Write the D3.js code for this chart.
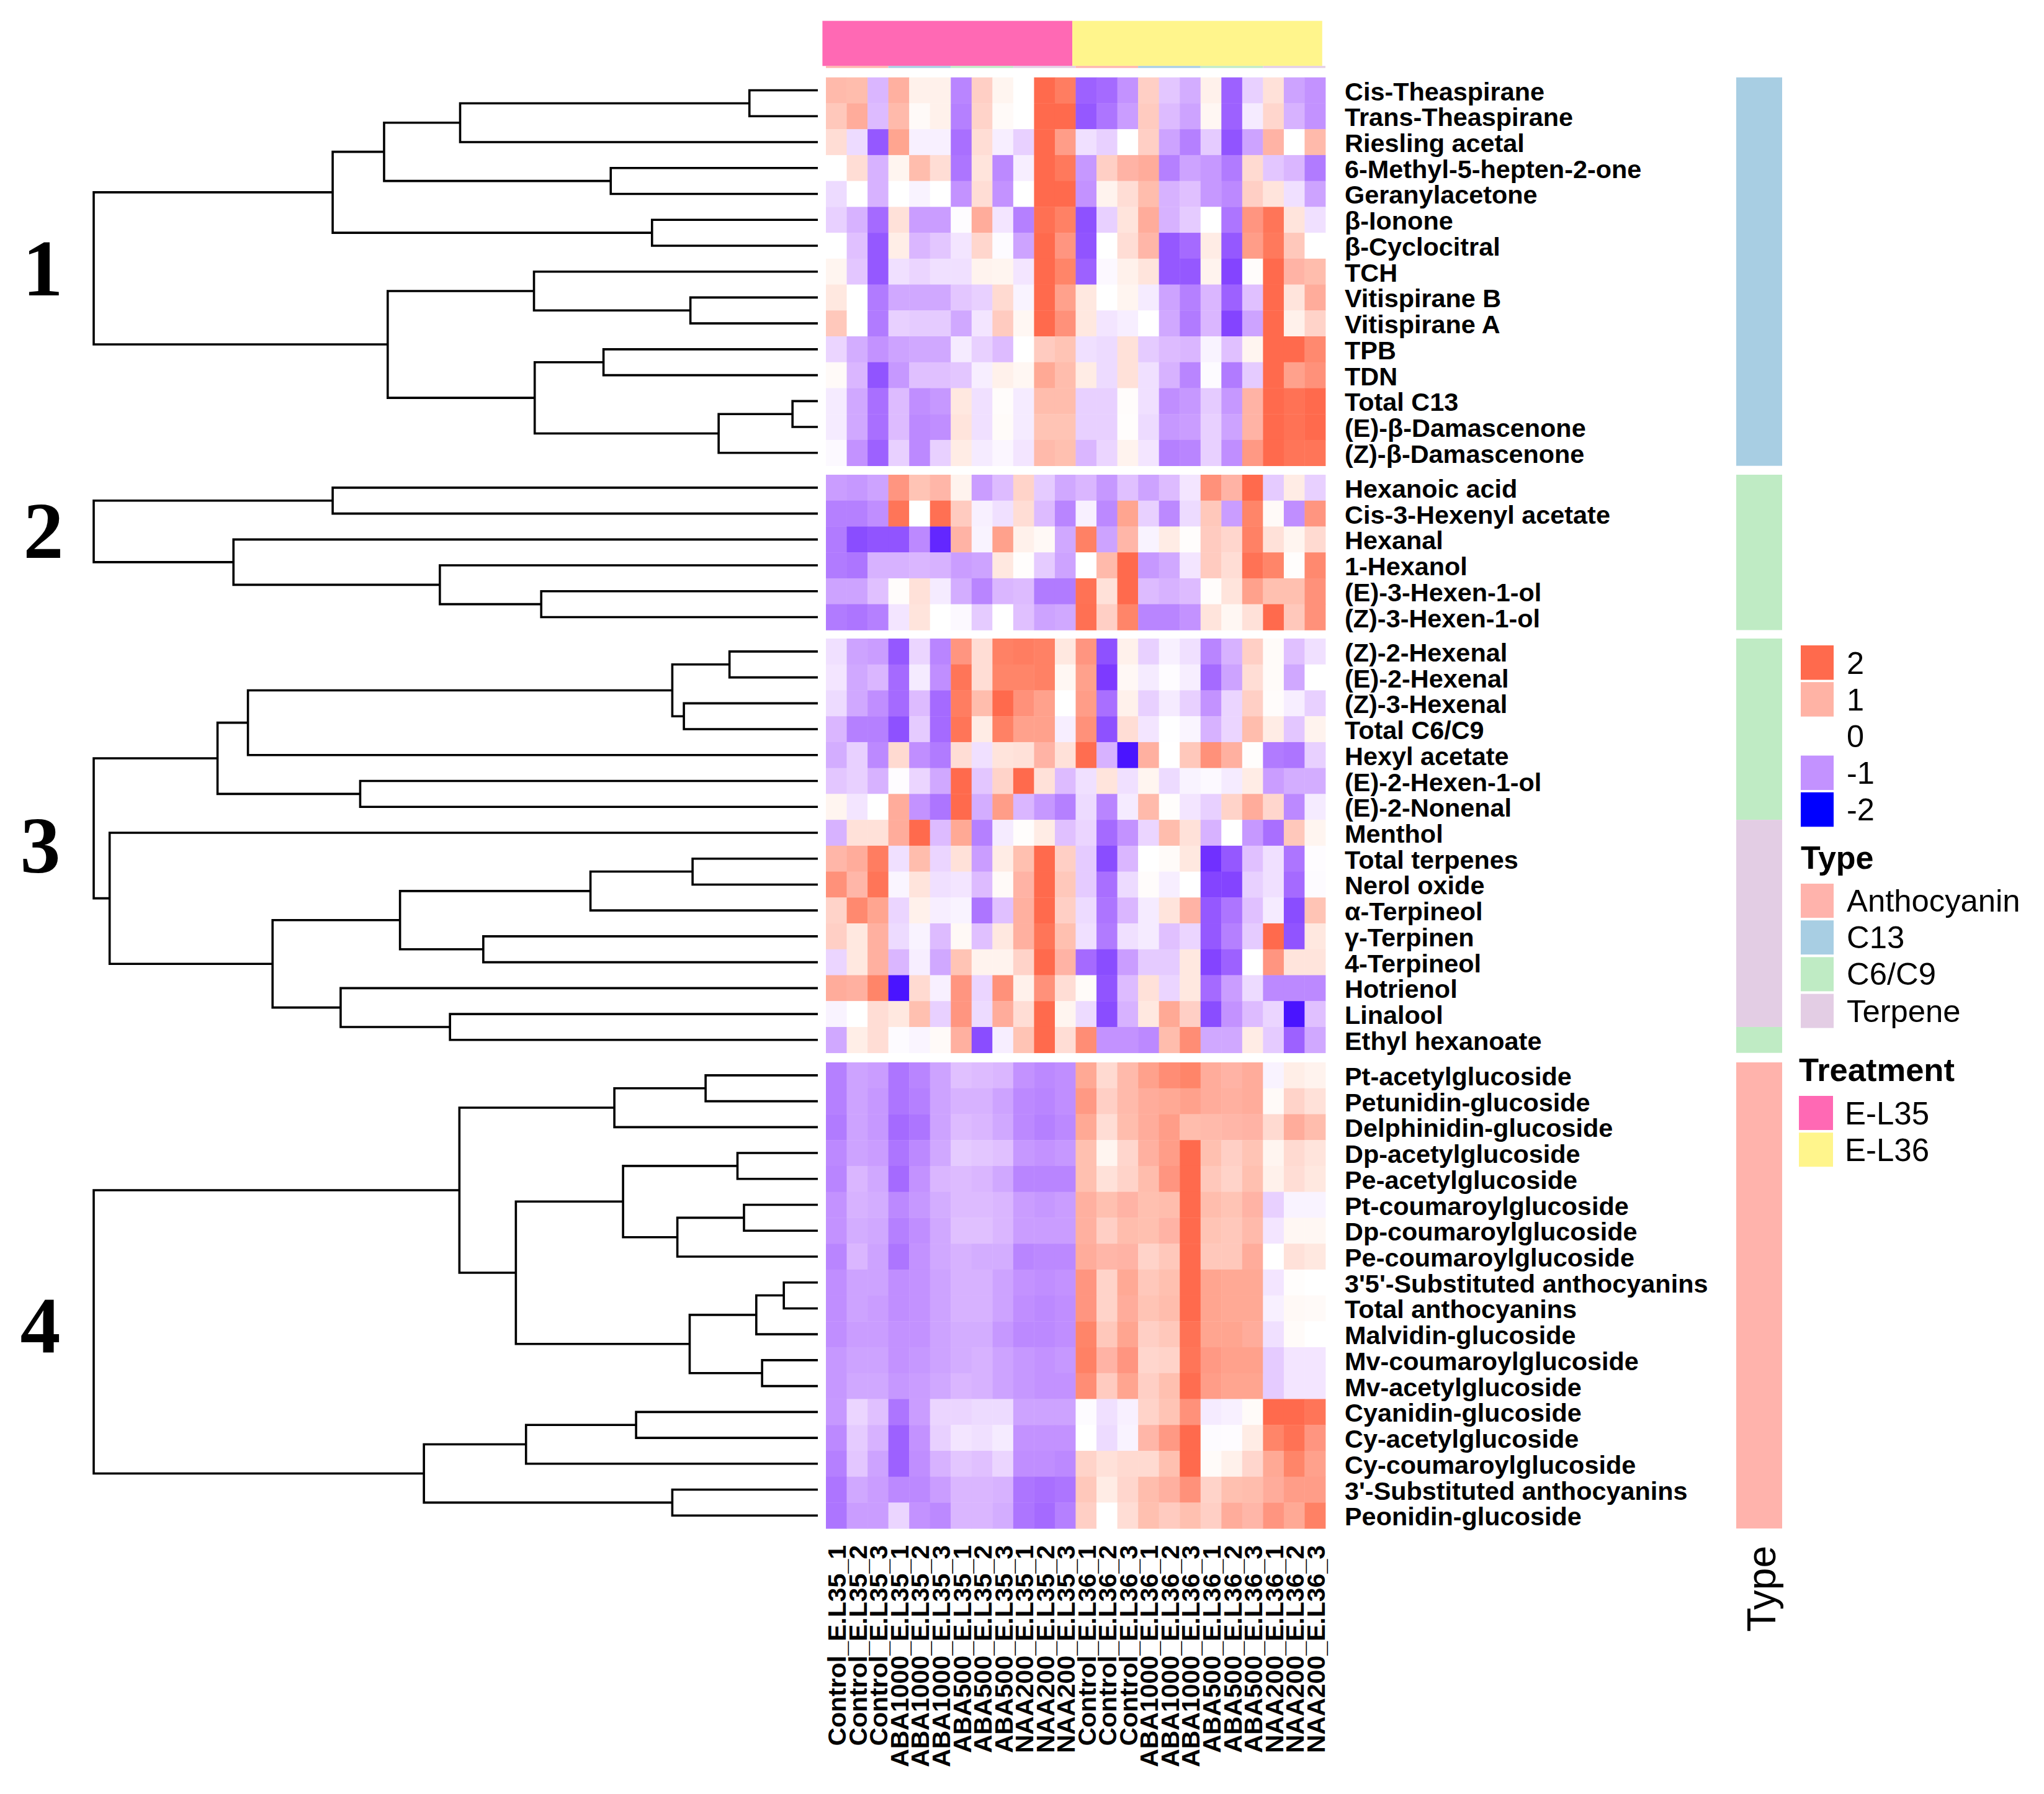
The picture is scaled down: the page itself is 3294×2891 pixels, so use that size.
<!DOCTYPE html>
<html><head><meta charset="utf-8">
<script src="https://d3js.org/d3.v7.min.js"></script>
<style>html,body{margin:0;padding:0;background:#fff}svg{display:block}text{font-family:"Liberation Sans",Arial,sans-serif;fill:#000}</style>
</head><body><svg id="c" width="3294" height="2891"></svg>
<script>
const columns = ["Control_E.L35_1","Control_E.L35_2","Control_E.L35_3","ABA1000_E.L35_1","ABA1000_E.L35_2","ABA1000_E.L35_3","ABA500_E.L35_1","ABA500_E.L35_2","ABA500_E.L35_3","NAA200_E.L35_1","NAA200_E.L35_2","NAA200_E.L35_3","Control_E.L36_1","Control_E.L36_2","Control_E.L36_3","ABA1000_E.L36_1","ABA1000_E.L36_2","ABA1000_E.L36_3","ABA500_E.L36_1","ABA500_E.L36_2","ABA500_E.L36_3","NAA200_E.L36_1","NAA200_E.L36_2","NAA200_E.L36_3"];

const rows1 = ["Cis-Theaspirane","Trans-Theaspirane","Riesling acetal","6-Methyl-5-hepten-2-one","Geranylacetone","β-Ionone","β-Cyclocitral","TCH","Vitispirane B","Vitispirane A","TPB","TDN","Total C13","(E)-β-Damascenone","(Z)-β-Damascenone"];
const rows2 = ["Hexanoic acid","Cis-3-Hexenyl acetate","Hexanal","1-Hexanol","(E)-3-Hexen-1-ol","(Z)-3-Hexen-1-ol"];
const rows3 = ["(Z)-2-Hexenal","(E)-2-Hexenal","(Z)-3-Hexenal","Total C6/C9","Hexyl acetate","(E)-2-Hexen-1-ol","(E)-2-Nonenal","Menthol","Total terpenes","Nerol oxide","α-Terpineol","γ-Terpinen","4-Terpineol","Hotrienol","Linalool","Ethyl hexanoate"];
const rows4 = ["Pt-acetylglucoside","Petunidin-glucoside","Delphinidin-glucoside","Dp-acetylglucoside","Pe-acetylglucoside","Pt-coumaroylglucoside","Dp-coumaroylglucoside","Pe-coumaroylglucoside","3'5'-Substituted anthocyanins","Total anthocyanins","Malvidin-glucoside","Mv-coumaroylglucoside","Mv-acetylglucoside","Cyanidin-glucoside","Cy-acetylglucoside","Cy-coumaroylglucoside","3'-Substituted anthocyanins","Peonidin-glucoside"];

const values1 = [
[.9,.85,-.65,1.05,.15,.15,-1.15,.6,.1,0,2,1.7,-1.45,-1.4,-1,.6,-.5,-.75,.15,-1.45,-.4,.35,-.85,-1],
[.7,1.1,-.6,.9,.05,.15,-1.2,.55,.05,0,2,2,-1.5,-1.3,-.9,.65,-.6,-.85,.08,-1.45,-.15,.5,-.7,-1],
[.4,-.3,-1.5,1.2,-.1,-.1,-1.35,.4,-.12,-.4,2,1.3,-.25,-.4,0,.6,-.85,-1.2,-.45,-1.55,-.85,1,0,.9],
[0,.4,-.7,.1,.85,.4,-1.3,.3,-1.1,-.12,2,1.75,-.95,.6,1,1.1,-1.2,-.85,-.95,-1.25,.45,-.5,-.65,-1.25],
[-.3,0,-.7,0,-.08,0,-1,.4,-1,0,2,2,-1,.12,.4,.85,-.7,-.55,-.95,-1.1,.6,.3,-.25,-.85],
[-.4,-.7,-1.4,.35,-.9,-.9,-.02,1.1,-.2,-1.2,1.9,1.65,-1.6,-.4,.3,1.1,-.7,-.45,0,-1.3,1.4,1.8,.3,-.25],
[0,-.55,-1.5,.18,-.65,-.5,-.2,.5,-.03,-.85,2,1.4,-1.55,0,.4,.95,-1.5,-1.4,.2,-1.5,1.3,1.75,.7,0],
[.1,-.5,-1.5,-.25,-.35,-.25,-.25,.12,.1,-.2,2,1.6,-1.45,-.05,.15,.3,-1.5,-1.5,.12,-1.7,.03,2,1,.85],
[.25,0,-1.25,-.8,-.8,-.8,-.5,-.4,.45,-.08,2,1.25,.25,0,.1,-.15,-.85,-1.2,-.65,-1.45,-.55,2,.3,1.1],
[.7,0,-1.25,-.4,-.45,-.45,-.8,-.2,.65,.08,2,1.45,.25,-.2,-.12,0,-.8,-1.25,-.65,-1.7,-.85,2,.15,.55],
[-.35,-.75,-1,-.85,-.8,-.8,-.15,-.4,-.6,0,.65,.75,-.25,-.3,.35,-.45,-.6,-.65,-.08,-.55,.1,2,2,1.55],
[.05,-.65,-1.55,-.95,-.55,-.55,-.5,-.12,.15,.08,1.15,.85,.2,-.3,.35,-.25,-.7,-1.15,-.03,-1.25,-.45,2,1.25,1.45],
[-.15,-.8,-1.35,-.6,-1.05,-.95,.25,-.25,.03,-.15,.85,.85,-.4,-.4,.03,-.25,-1.05,-.95,-.45,-.95,1,2,1.85,2],
[-.15,-.8,-1.35,-.6,-1.1,-1.05,.3,-.25,.04,-.15,.75,.75,-.4,-.4,.02,-.3,-.95,-.9,-.4,-.85,1,2,1.85,2],
[-.04,-1,-1.45,-.4,-1.1,-.4,.2,-.15,-.06,-.2,.9,.8,-.65,-.35,.12,-.2,-1.2,-1.15,-.4,-1.05,1.35,2,1.8,1.8]];
const values2 = [
[-.9,-.95,-.85,1.4,.75,.95,.12,-.9,-.6,.55,-.45,-.8,-.65,-.95,-.55,-.85,-.6,-.2,1.45,1,2,-.45,.2,-.4],
[-1.2,-1.2,-1.05,1.8,0,1.9,.65,-.1,-.25,.4,-.6,-1.15,-.1,-1.1,1.2,-.4,-1.1,-.3,.7,-.9,1.6,.05,-1.05,1.4],
[-1.25,-1.65,-1.55,-1.55,-1.1,-1.85,1,-.08,1.25,.15,.06,-.8,1.65,-.85,.95,-.08,.2,.02,.65,.5,1.65,.35,.1,.45],
[-1.25,-1.3,-.7,-.7,-.65,-.7,-.9,-.85,.25,.02,-.45,-.85,0,.9,2,-.95,-.8,-.2,.65,.4,1.85,1.6,.02,1.55],
[-.85,-.85,-.55,.03,.35,-.15,-.75,-1.15,-.65,-.6,-1.25,-1.25,1.85,.35,2,-.6,-.7,-.6,.03,.3,1.25,.8,.8,1.45],
[-1.25,-1.3,-1.2,-.2,.3,0,-.04,-.45,0,-.55,-.85,-.8,1.9,.6,1.6,-1.15,-1.15,-1,.3,.08,.35,2,.7,1.45]];
const values3 = [
[-.25,-.85,-.9,-1.5,-.35,-1.15,1.4,.4,1.65,1.7,1.65,.25,1.4,-1.6,.15,-.4,-.1,-.25,-1.15,-.7,.6,.04,-.55,-.25],
[-.2,-.8,-.65,-1.4,-.15,-1.05,1.8,.4,1.6,1.6,1.65,.08,1.25,-1.75,.07,-.15,-.02,-.12,-1.4,-.85,.4,.04,-.8,0],
[-.3,-.8,-1.05,-1.4,-.6,-1.4,1.7,.85,2,1.45,1.25,0,1.3,-1.35,.15,-.4,-.15,-.4,-1,-.35,.6,.03,-.12,-.4],
[-.65,-1.2,-1.2,-1.6,-.45,-1.4,1.8,.2,1.65,1.25,1.25,-.12,1.45,-1.6,.4,-.2,-.01,-.07,-.7,-.35,.85,.2,-.5,.12],
[-.75,-.4,-1.1,.45,-1.05,-1.25,.4,-.25,.3,.35,1,.35,1.95,-.7,-1.95,1.05,0,.7,1.45,1.05,.02,-1.25,-1.3,-.4],
[-.5,-.4,-.7,-.02,-.35,-.8,2,-.5,.55,2,.35,-.6,-.25,.3,-.25,.1,-.3,-.08,-.04,-.15,.2,-.9,-.75,-.75],
[.1,-.2,0,1.1,-1,-1.3,2,-.75,1.3,-.65,-.95,-1.2,-.3,-1.15,-.15,.9,.02,-.2,-.4,.55,1.1,.5,-1.1,-.15],
[-.7,.35,.35,1.1,2,-.6,1.15,-1.2,-.15,.02,.2,-.55,-.35,-1.4,-1,-.35,.85,.35,-.7,0,-.95,-1.35,.7,.1],
[.95,1.1,1.7,-.25,.85,-.35,.35,-.9,.2,.8,2,.6,-.45,-1.65,-.65,0,.04,.25,-1.8,-1.5,-.55,-.25,-1.3,-.02],
[1.45,.95,1.8,-.07,.3,-.25,-.2,-.6,.05,1,2,.7,-.45,-1.35,-.3,.03,-.12,0,-1.7,-1.7,-.4,-.25,-1.4,-.03],
[.55,1.55,1.2,-.35,.15,-.12,-.08,-1.3,-.55,1.05,2,.6,-.3,-1.3,-.65,-.15,.3,1,-1.5,-1.3,-.55,-.15,-1.65,.75],
[.6,.25,1.05,-.3,-.08,-.6,.06,-.55,.25,1.05,1.8,.8,-.25,-1.25,-.25,-.15,-.55,-.35,-1.5,-1.2,-.45,2,-1.55,.25],
[-.35,.25,1.05,-.65,-.12,-.8,.75,.12,.12,.55,2,1,-1.4,-1.65,-.9,-.45,-.45,.25,-1.7,-1.45,0,1.4,.3,.3],
[1.1,1.05,1.6,-1.95,.45,-.1,1.4,-.35,1.45,.15,1.45,.4,.04,-1.55,-.6,.35,-.35,.25,-1.4,-.9,-.3,-1.1,-1.1,-1.1],
[-.08,0,.4,.25,.8,-.4,1.4,-.3,1.1,.4,2,.1,-.3,-1.65,-.7,.25,1.15,.6,-1.65,-1,-.6,-.35,-1.95,-.55],
[-.8,.18,.4,-.03,-.07,.05,1.05,-1.65,-.12,.75,2,.4,1.5,-1,-1,-1.1,.85,1.5,-.8,-.8,.2,-.45,-1.45,-.8]];
const values4 = [
[-1.2,-.85,-.9,-1.3,-1.15,-.85,-.55,-.6,-.65,-1,-1.1,-1.05,1.15,.45,.9,1.25,1.5,1.6,1.1,1,1.1,-.08,.18,.12],
[-1.2,-.85,-.95,-1.3,-1.2,-.85,-.7,-.7,-.85,-1.1,-1.15,-1.05,1.35,.6,.9,1.1,1.15,1.25,1.1,1.05,1.1,.05,.55,.35],
[-1.25,-.85,-.95,-1.4,-1.3,-.85,-.6,-.65,-.8,-1.1,-1.2,-1.1,1.15,.4,.85,1.1,1.3,.85,.9,.95,1,.45,1.1,.85],
[-1.1,-.85,-.9,-1.3,-1.1,-.8,-.45,-.5,-.55,-.95,-1,-.95,.8,.1,.5,1.05,1.3,2,.8,.6,.75,.1,.45,.3],
[-1.15,-.65,-.8,-1.4,-1,-.65,-.6,-.65,-.8,-1.15,-1.15,-1.15,.8,.35,.55,.85,1.4,2,.7,.55,.8,.15,.4,.25],
[-1,-.7,-.75,-1.1,-.95,-.75,-.6,-.6,-.65,-.9,-.95,-.9,1.05,.8,1,.8,.85,2,.85,.75,1,-.4,-.08,-.08],
[-1,-.75,-.8,-1.2,-1.05,-.8,-.55,-.55,-.65,-.9,-.9,-.9,1.05,.6,.85,.8,1,2,.75,.7,.9,-.2,.08,.08],
[-1.15,-.65,-.85,-1.3,-1,-.8,-.7,-.75,-.75,-1.15,-1.1,-1.1,1.1,.95,1,.55,.7,2,.7,.7,1.1,0,.35,.25],
[-1.05,-.85,-.85,-1.05,-1,-.85,-.7,-.7,-.85,-1,-1.05,-1,1.4,.55,1.15,.7,.8,2,1.2,1.15,1.15,-.2,.02,0],
[-1.05,-.85,-.9,-1.05,-1,-.85,-.7,-.7,-.85,-1.05,-1.1,-1.05,1.4,.55,1.1,.75,.85,2,1.2,1.15,1.15,-.1,.06,.05],
[-1.05,-.9,-.9,-1,-1,-.85,-.75,-.75,-.95,-1.1,-1.1,-1.05,1.6,.7,1.2,.6,.7,1.85,1.2,1.2,1.1,-.25,.04,0],
[-.95,-.85,-.85,-1,-.95,-.85,-.75,-.7,-.85,-.95,-1,-.95,1.65,1,1.4,.5,.55,1.8,1.35,1.25,1.25,-.45,-.2,-.2],
[-.95,-.8,-.8,-.95,-.9,-.8,-.65,-.7,-.85,-.95,-1,-1,1.5,.65,1.2,.6,.8,1.95,1.3,1.2,1.2,-.45,-.2,-.2],
[-.95,-.35,-.55,-1.3,-.9,-.35,-.35,-.3,-.3,-.85,-.85,-.85,-.03,-.25,-.1,.55,.75,1.45,-.15,-.1,.04,2,2,1.8],
[-1.1,-.45,-.7,-1.45,-1,-.4,-.2,-.25,-.15,-1,-1,-1,0,-.3,-.08,.95,1.35,2,-.03,-.02,.2,1.6,1.85,1.4],
[-1.2,-.5,-.85,-1.45,-1.05,-.7,-.5,-.55,-.35,-1.05,-1.05,-1.1,.55,.35,.45,.45,.8,2,.04,.15,.5,1.15,1.6,1.25],
[-1.3,-.8,-.9,-1.1,-1.1,-.9,-.65,-.65,-.7,-1.3,-1.35,-1.3,.7,.2,.5,.85,1.05,1.45,.55,.8,.85,1.1,1.3,1.3],
[-1.3,-.9,-.9,-.35,-1,-1.1,-.65,-.65,-.75,-1.3,-1.4,-1.2,.6,0,.4,.8,.65,.8,.6,1.1,.95,1.4,1.15,1.65]];

// Dendrograms: [merge height, child, child]; a string is a row name.
const tree1 = [100,[67,[59.9,[49.4,[9.45,"Cis-Theaspirane","Trans-Theaspirane"],"Riesling acetal"],[28.6,"6-Methyl-5-hepten-2-one","Geranylacetone"]],[22.9,"β-Ionone","β-Cyclocitral"]],[59.4,[39.2,"TCH",[17.6,"Vitispirane B","Vitispirane A"]],[39.1,[29.6,"TPB","TDN"],[13.7,[3.5,"Total C13","(E)-β-Damascenone"],"(Z)-β-Damascenone"]]]];
const tree2 = [100,[67,"Hexanoic acid","Cis-3-Hexenyl acetate"],[80.7,"Hexanal",[52.2,"1-Hexanol",[38.2,"(E)-3-Hexen-1-ol","(Z)-3-Hexen-1-ol"]]]];
const tree3 = [100,[82.9,[78.7,[20.1,[12.2,"(Z)-2-Hexenal","(E)-2-Hexenal"],[18.5,"(Z)-3-Hexenal","Total C6/C9"]],"Hexyl acetate"],[63.2,"(E)-2-Hexen-1-ol","(E)-2-Nonenal"]],[97.8,"Menthol",[75.3,[57.7,[31.4,[17.3,"Total terpenes","Nerol oxide"],"α-Terpineol"],[46.2,"γ-Terpinen","4-Terpineol"]],[65.9,"Hotrienol",[50.8,"Linalool","Ethyl hexanoate"]]]]];
const tree4 = [100,[49.5,[28.1,[15.5,"Pt-acetylglucoside","Petunidin-glucoside"],"Delphinidin-glucoside"],[41.7,[26.9,[11.1,"Dp-acetylglucoside","Pe-acetylglucoside"],[19.4,[10.2,"Pt-coumaroylglucoside","Dp-coumaroylglucoside"],"Pe-coumaroylglucoside"]],[17.7,[8.5,[4.7,"3'5'-Substituted anthocyanins","Total anthocyanins"],"Malvidin-glucoside"],[7.7,"Mv-coumaroylglucoside","Mv-acetylglucoside"]]]],[54.4,[40.3,[25.1,"Cyanidin-glucoside","Cy-acetylglucoside"],"Cy-coumaroylglucoside"],[20.1,"3'-Substituted anthocyanins","Peonidin-glucoside"]]];

const clusterNames = ["1","2","3","4"];
const typeSpans = [["C13",15],["C6/C9",6],["C6/C9",7],["Terpene",8],["C6/C9",1],["Anthocyanin",18]];
const typeNames = ["Anthocyanin","C13","C6/C9","Terpene"];
const typeColors = ["#FFB3AC","#A8CEE3","#BFEBC4","#E3CDE4"];
const treatNames = ["E-L35","E-L36"];
const treatColors = ["#FF69B4","#FFF58C"];
const heatTicks = [2,1,0,-1,-2];
const colorStops = [-2,-1.95,-1.75,-1.65,-1.5,-1.4,-1.2,-1,-.8,-.6,-.4,-.25,-.1,0,.1,.25,.4,.6,.8,1,1.2,1.4,1.6,1.8,2];
const colorRange = ["#0000FF","#4A14FF","#7D3AFF","#8A4DFF","#9558FF","#A56AFF","#B580FF","#C392FF","#D0A8FF","#DDBBFF","#E8D0FF","#F0E0FF","#F8F0FF","#FFFFFF","#FFF5F0","#FFE8E0","#FFDDD5","#FFCFC5","#FFC0B0","#FFB3A5","#FFA590","#FF9580","#FF8569","#FF7558","#FF6A4D"];

const color = d3.scaleLinear().domain(colorStops).range(colorRange).clamp(true);
const svg = d3.select("#c");
svg.append("rect").attr("width",3294).attr("height",2891).attr("fill","#fff");

const xCol = d3.scaleBand().domain(d3.range(24)).range([1331,2136]);
const xH = d3.scaleLinear().domain([100,0]).range([151,1318]);
const rowH = 41.73;
const groups = [
 {rows:rows1,vals:values1,tree:tree1,top:124.7,num:clusterNames[0],nx:69,ny:476},
 {rows:rows2,vals:values2,tree:tree2,top:765,num:clusterNames[1],nx:70,ny:899},
 {rows:rows3,vals:values3,tree:tree3,top:1029,num:clusterNames[2],nx:65,ny:1406},
 {rows:rows4,vals:values4,tree:tree4,top:1712,num:clusterNames[3],nx:65,ny:2180}];

// top annotation
const topX = d3.scaleBand().domain(treatNames).range([1325.4,2130.8]);
svg.selectAll("rect.top").data(treatNames).join("rect").attr("class","top")
  .attr("x",d=>topX(d)).attr("y",33.6).attr("width",topX.bandwidth()).attr("height",72.7)
  .attr("fill",(d,i)=>treatColors[i]);
d3.range(8).forEach(i=>{
  svg.append("rect").attr("x",xCol(i*3)).attr("y",106.3).attr("width",xCol.bandwidth()*3).attr("height",3.2)
    .attr("fill",typeColors[i%4]);
});

groups.forEach(g=>{
  const yRow = d3.scaleBand().domain(g.rows).range([g.top,g.top+rowH*g.rows.length]);
  const gg = svg.append("g");
  g.vals.forEach((row,r)=>{
    gg.selectAll(null).data(row).join("rect")
      .attr("x",(d,c)=>xCol(c)).attr("y",yRow(g.rows[r]))
      .attr("width",xCol.bandwidth()+.4).attr("height",rowH+.4)
      .attr("fill",d=>color(d));
  });
  svg.selectAll(null).data(g.rows).join("text")
    .attr("x",2167).attr("y",d=>yRow(d)+yRow.bandwidth()/2+16)
    .attr("font-size",41.4).attr("font-weight","bold").text(d=>d);
  // dendrogram
  const root = d3.hierarchy(g.tree,d=>Array.isArray(d)?d.slice(1):null);
  const path = d3.path();
  root.eachAfter(n=>{
    if(!n.children){ n.py = yRow(n.data)+yRow.bandwidth()/2; n.px = xH(0); }
    else {
      n.py = d3.mean(n.children,c=>c.py); n.px = xH(n.data[0]);
      const [a,b] = n.children;
      path.moveTo(a.px,a.py); path.lineTo(n.px,a.py); path.lineTo(n.px,b.py); path.lineTo(b.px,b.py);
    }
  });
  svg.append("path").attr("d",path.toString()).attr("fill","none").attr("stroke","#000").attr("stroke-width",3.6).attr("stroke-linejoin","miter");
  svg.append("text").attr("x",g.nx).attr("y",g.ny).attr("text-anchor","middle")
    .attr("font-size",130).attr("font-weight","bold").style("font-family","'Liberation Serif',serif").text(g.num);
});

// right-hand annotation column
let pos = 0;
const allTops = groups.flatMap(g=>g.rows.map((_,i)=>g.top+i*rowH));
typeSpans.forEach(([t,n])=>{
  const y0 = allTops[pos], y1 = allTops[pos+n-1]+rowH;
  svg.append("rect").attr("x",2798).attr("y",y0).attr("width",74).attr("height",y1-y0).attr("fill",typeColors[typeNames.indexOf(t)]);
  pos += n;
});

// column labels
svg.selectAll(null).data(columns).join("text")
  .attr("transform",(d,i)=>`translate(${xCol(i)+xCol.bandwidth()/2+15.5},2490) rotate(-90)`)
  .attr("text-anchor","end").attr("font-size",41).attr("font-weight","bold").text(d=>d);
svg.append("text").attr("transform","translate(2861,2491) rotate(-90)").attr("text-anchor","end").attr("font-size",64).text("Type");

// legends
const pitch = 59.2;
heatTicks.forEach((t,i)=>{
  const y = 1040+i*pitch;
  svg.append("rect").attr("x",2902).attr("y",y).attr("width",53).attr("height",55.5).attr("fill",color(t));
  svg.append("text").attr("x",2976).attr("y",y+45.5).attr("font-size",50.5).text(t);
});
svg.append("text").attr("x",2902).attr("y",1400).attr("font-size",52).attr("font-weight","bold").text("Type");
typeNames.forEach((t,i)=>{
  const y = 1424+i*pitch;
  svg.append("rect").attr("x",2902).attr("y",y).attr("width",53).attr("height",55).attr("fill",typeColors[i]);
  svg.append("text").attr("x",2976).attr("y",y+45).attr("font-size",50.8).text(t);
});
svg.append("text").attr("x",2899).attr("y",1742).attr("font-size",52.5).attr("font-weight","bold").text("Treatment");
treatNames.forEach((t,i)=>{
  const y = 1766+i*pitch;
  svg.append("rect").attr("x",2899).attr("y",y).attr("width",55).attr("height",55).attr("fill",treatColors[i]);
  svg.append("text").attr("x",2973).attr("y",y+46).attr("font-size",51).text(t);
});
</script></body></html>
